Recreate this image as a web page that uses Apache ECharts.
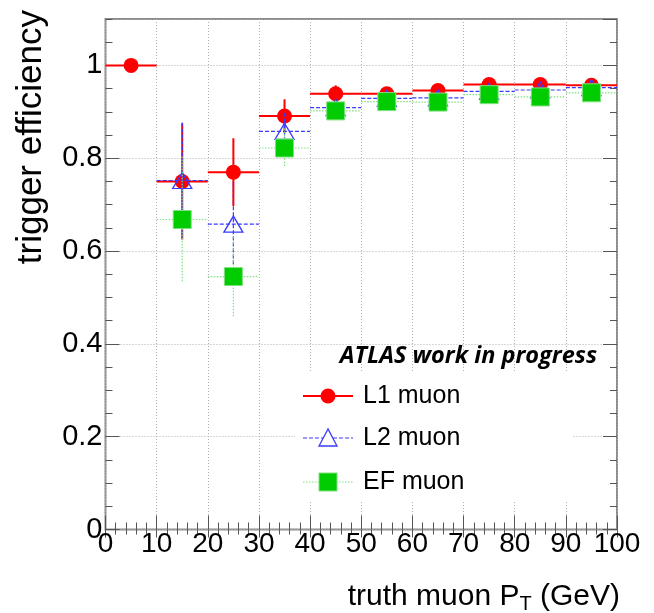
<!DOCTYPE html>
<html>
<head>
<meta charset="utf-8">
<script src="https://cdn.jsdelivr.net/npm/echarts@6/dist/echarts.min.js"></script>
<style>
  html, body { margin: 0; padding: 0; background: #ffffff; }
  #chart { width: 654px; height: 613px; }
</style>
</head>
<body>
<div id="chart"></div>
<script>
// Truth-muon pT bins (GeV): centres and half width
const binCenters = [5, 15, 25, 35, 45, 55, 65, 75, 85, 95];
const binHalfWidth = 5;

// Trigger efficiency per level, with symmetric uncertainties (null = no entry)
const l1Eff = [1.0, 0.750, 0.770, 0.891, 0.939, 0.939, 0.946, 0.959, 0.959, 0.957];
const l1Err = [0.0, 0.125, 0.073, 0.036, 0.018, 0.010, 0.010, 0.007, 0.007, 0.007];
const l2Eff = [null, 0.752, 0.658, 0.858, 0.909, 0.929, 0.930, 0.944, 0.947, 0.952];
const l2Err = [null, 0.125, 0.090, 0.040, 0.020, 0.012, 0.012, 0.008, 0.008, 0.008];
const efEff = [null, 0.668, 0.545, 0.822, 0.902, 0.922, 0.921, 0.937, 0.932, 0.941];
const efErr = [null, 0.135, 0.086, 0.042, 0.022, 0.014, 0.014, 0.010, 0.010, 0.010];

const legendNames = ['L1 muon', 'L2 muon', 'EF muon'];
const xTitle = ['truth muon P', 'T', ' (GeV)'];
const yTitle = 'trigger efficiency';
const tagText = 'ATLAS work in progress';

const FONT = 'Liberation Sans, Arial, sans-serif';
const RED = '#ff0000', BLUE = '#3a3aff', GREEN = '#00cc00', LIGHTGREEN = '#7fe07f';

const l1Style = { stroke: RED, lineWidth: 2 };
const l2Style = { stroke: BLUE, lineWidth: 1.2, lineDash: [4, 2] };
const efStyle = { stroke: LIGHTGREEN, lineWidth: 1.2, lineDash: [1.5, 1.5] };

function points(eff, err) {
  const out = [];
  binCenters.forEach((x, i) => {
    if (eff[i] !== null) out.push([x, eff[i], err[i]]);
  });
  return out;
}

// Horizontal bin-width bar plus vertical uncertainty bar for each point
function errorSeries(name, eff, err, style, z) {
  return {
    type: 'custom',
    name: name + ' errors',
    z: z,
    silent: true,
    data: points(eff, err),
    encode: { x: 0, y: 1 },
    renderItem: function (params, api) {
      const x = api.value(0), y = api.value(1), e = api.value(2);
      const l = api.coord([x - binHalfWidth, y]);
      const r = api.coord([x + binHalfWidth, y]);
      const t = api.coord([x, y + e]);
      const b = api.coord([x, y - e]);
      return {
        type: 'group',
        children: [
          { type: 'line', shape: { x1: l[0], y1: l[1], x2: r[0], y2: r[1] }, style: style },
          { type: 'line', shape: { x1: t[0], y1: t[1], x2: b[0], y2: b[1] }, style: style }
        ]
      };
    }
  };
}

function markerSeries(name, eff, symbol, size, itemStyle, z) {
  return {
    type: 'scatter',
    name: name,
    z: z,
    silent: true,
    symbol: symbol,
    symbolSize: size,
    itemStyle: Object.assign({ opacity: 1 }, itemStyle),
    data: points(eff, eff).map(p => [p[0], p[1]])
  };
}

const tickColor = '#555';
const gridLineStyle = { color: '#b0b0b0', type: [1, 2], width: 1 };

function xAxisDef(pos, majorLen, minorLen, labels) {
  return {
    type: 'value', position: pos, min: 0, max: 100, interval: 10,
    axisLine: { show: false },
    axisTick: { show: true, inside: true, length: majorLen, lineStyle: { color: tickColor, width: 1 } },
    minorTick: { show: true, splitNumber: 5, length: minorLen, lineStyle: { color: tickColor, width: 1 } },
    splitLine: { show: labels, lineStyle: gridLineStyle },
    axisLabel: { show: labels, fontSize: 28, fontFamily: FONT, color: '#000', margin: 1 }
  };
}

function yAxisDef(pos, interval, tickLen, labels) {
  return {
    type: 'value', position: pos, min: 0, max: 1.1, interval: interval,
    axisLine: { show: false },
    axisTick: { show: true, inside: true, length: tickLen, lineStyle: { color: tickColor, width: 1 } },
    splitLine: { show: labels, lineStyle: gridLineStyle },
    axisLabel: { show: labels, showMaxLabel: false, fontSize: 29, fontFamily: FONT, color: '#000', margin: 3 }
  };
}

const chart = echarts.init(document.getElementById('chart'));

const legendY = [396, 438, 482];
const legendX0 = 303, legendX1 = 353, legendMX = 328, legendTX = 363;

chart.setOption({
  animation: false,
  backgroundColor: '#ffffff',
  grid: {
    left: 105.5, right: 37, top: 19, bottom: 83.5,
    show: true, borderColor: '#8c8c8c', borderWidth: 2, backgroundColor: 'transparent'
  },
  xAxis: [
    xAxisDef('bottom', 14, 7, true),
    xAxisDef('top', 8, 5, false)
  ],
  yAxis: [
    yAxisDef('left', 0.2, 14, true),
    yAxisDef('left', 0.05, 7, false),
    yAxisDef('right', 0.2, 14, false),
    yAxisDef('right', 0.05, 7, false)
  ],
  series: [
    errorSeries(legendNames[0], l1Eff, l1Err, l1Style, 3),
    markerSeries(legendNames[0], l1Eff, 'circle', 15, { color: RED }, 4),
    errorSeries(legendNames[1], l2Eff, l2Err, l2Style, 5),
    markerSeries(legendNames[1], l2Eff, 'triangle', [19, 16],
      { color: 'rgba(255,255,255,0)', borderColor: BLUE, borderWidth: 1.3 }, 6),
    errorSeries(legendNames[2], efEff, efErr, efStyle, 7),
    markerSeries(legendNames[2], efEff, 'rect', 18,
      { color: GREEN, borderColor: LIGHTGREEN, borderWidth: 1 }, 8)
  ],
  graphic: [
    // legend panel
    { type: 'rect', z: 100, shape: { x: 295, y: 372, width: 277, height: 130 }, style: { fill: '#ffffff' } },
    { type: 'text', z: 101, x: 597, y: 356,
      style: { text: tagText, font: 'italic bold 23.5px "Open Sans", sans-serif', fill: '#000',
               textAlign: 'right', textVerticalAlign: 'middle' } },
    // L1 entry
    { type: 'line', z: 101, shape: { x1: legendX0, y1: legendY[0], x2: legendX1, y2: legendY[0] }, style: l1Style },
    { type: 'circle', z: 102, shape: { cx: legendMX, cy: legendY[0], r: 7.5 }, style: { fill: RED } },
    { type: 'text', z: 101, x: legendTX, y: legendY[0],
      style: { text: legendNames[0], font: '25px ' + FONT, fill: '#000', textVerticalAlign: 'middle' } },
    // L2 entry
    { type: 'line', z: 101, shape: { x1: legendX0, y1: legendY[1], x2: legendX1, y2: legendY[1] }, style: l2Style },
    { type: 'polygon', z: 102,
      shape: { points: [[legendMX, legendY[1] - 9], [legendMX - 9, legendY[1] + 8], [legendMX + 9, legendY[1] + 8]] },
      style: { fill: '#ffffff', stroke: BLUE, lineWidth: 1.3 } },
    { type: 'text', z: 101, x: legendTX, y: legendY[1],
      style: { text: legendNames[1], font: '25px ' + FONT, fill: '#000', textVerticalAlign: 'middle' } },
    // EF entry
    { type: 'line', z: 101, shape: { x1: legendX0, y1: legendY[2], x2: legendX1, y2: legendY[2] }, style: efStyle },
    { type: 'rect', z: 102, shape: { x: legendMX - 9, y: legendY[2] - 9, width: 18, height: 18 },
      style: { fill: GREEN, stroke: LIGHTGREEN, lineWidth: 1 } },
    { type: 'text', z: 101, x: legendTX, y: legendY[2],
      style: { text: legendNames[2], font: '25px ' + FONT, fill: '#000', textVerticalAlign: 'middle' } },
    // axis titles
    { type: 'text', z: 101, x: 620, y: 597,
      style: {
        text: '{a|' + xTitle[0] + '}{s|' + xTitle[1] + '}{a|' + xTitle[2] + '}',
        textAlign: 'right', textVerticalAlign: 'middle',
        rich: {
          a: { fontSize: 30, fontFamily: FONT, color: '#000' },
          s: { fontSize: 20, fontFamily: FONT, color: '#000', padding: [14, 0, 0, 0] }
        }
      } },
    { type: 'text', z: 101, x: 31, y: 10, rotation: Math.PI / 2,
      style: { text: yTitle, font: '35px ' + FONT, fill: '#000',
               textAlign: 'right', textVerticalAlign: 'middle' } }
  ]
});
</script>
</body>
</html>
